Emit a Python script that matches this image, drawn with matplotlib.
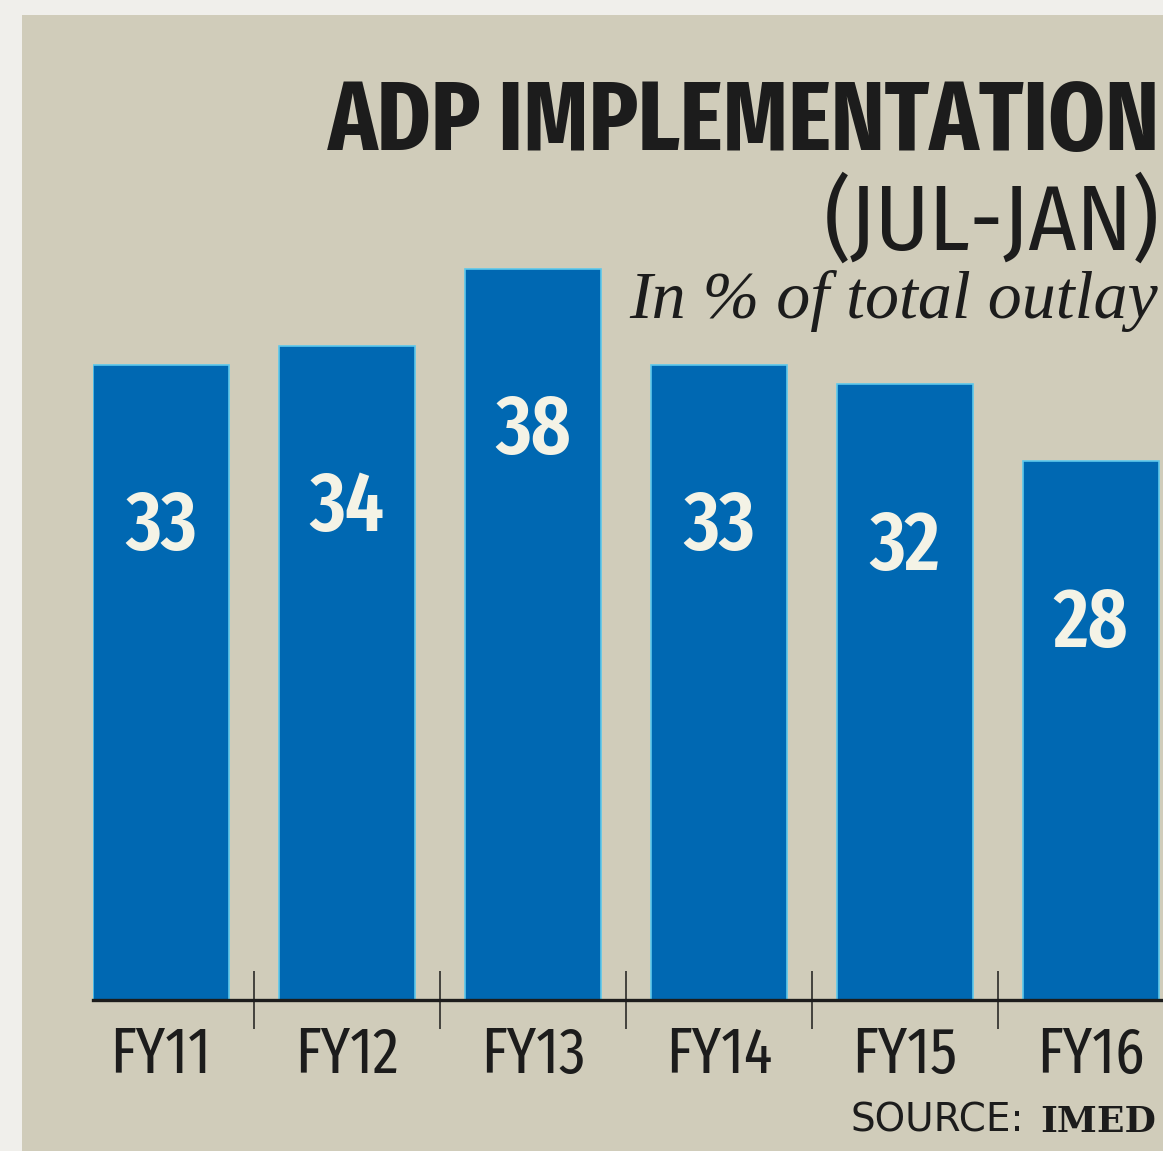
import matplotlib
matplotlib.use("Agg")
import matplotlib.pyplot as plt
from matplotlib.patches import Rectangle

years = ["FY11", "FY12", "FY13", "FY14", "FY15", "FY16"]
values = [33, 34, 38, 33, 32, 28]

W, H = 1163, 1151
bg = "#d0ccba"
bar_color = "#0068b2"
ink = "#1c1c1c"
xcond = ["Fira Sans Extra Condensed", "DejaVu Sans"]
cond = ["Fira Sans Condensed", "DejaVu Sans"]

fig = plt.figure(figsize=(W / 100, H / 100), dpi=100, facecolor="#f0efeb")

# beige panel behind everything
fig.patches.append(Rectangle((22 / W, 0), 1, 1 - 15 / H, transform=fig.transFigure,
                             facecolor=bg, edgecolor="none", zorder=-1))

# axes placed in pixel terms: baseline at y=1000, 19.25 px per unit
ax = fig.add_axes([93 / W, (H - 1000) / H, (W - 93) / W, 985 / H])
ax.patch.set_visible(False)

x = list(range(len(years)))
ax.bar(x, values, width=0.73, color=bar_color, edgecolor="#5cc8ec", linewidth=1.2, zorder=2)
ax.set_xlim(-0.365, (W - 161) / 186)
ax.set_ylim(0, 985 / 19.25)

for xi, v in zip(x, values):
    ax.text(xi, v - 8.47, str(v), ha="center", va="center", color="#f4f3e6",
            fontsize=60, fontweight="semibold", family=xcond, zorder=3)

for s in ["top", "right", "left"]:
    ax.spines[s].set_visible(False)
ax.spines["bottom"].set_linewidth(2.4)
ax.spines["bottom"].set_color(ink)
ax.spines["bottom"].set_zorder(4)

ax.set_yticks([])
ax.set_xticks(x)
ax.set_xticklabels(years, family=xcond, fontsize=46, color=ink)
ax.tick_params(axis="x", which="major", length=0, pad=18)
ax.set_xticks([i + 0.5 for i in x[:-1]], minor=True)
ax.tick_params(axis="x", which="minor", direction="inout", length=42, width=1.1, color=ink)

# titles
fig.text(1160 / W, 1 - 150 / H, "ADP IMPLEMENTATION", ha="right", va="baseline",
         fontsize=71, fontweight="bold", family=xcond, color=ink)
fig.text(1160 / W, 1 - 250 / H, "(JUL-JAN)", ha="right", va="baseline",
         fontsize=66, family=cond, color=ink)
fig.text(1158 / W, 1 - 318 / H, "In % of total outlay", ha="right", va="baseline",
         fontsize=49, style="italic", family=["Liberation Serif", "DejaVu Serif"], color=ink)

# source line, both parts on the same baseline
fig.text(1156 / W, 1 - 1132 / H, "IMED", ha="right", va="baseline",
         fontsize=26, fontweight="bold", family="DejaVu Serif", color=ink)
fig.text(1024 / W, 1 - 1132 / H, "SOURCE:", ha="right", va="baseline",
         fontsize=28, family="DejaVu Sans", color=ink)

fig.savefig("out.png", dpi=100, facecolor=fig.get_facecolor())
